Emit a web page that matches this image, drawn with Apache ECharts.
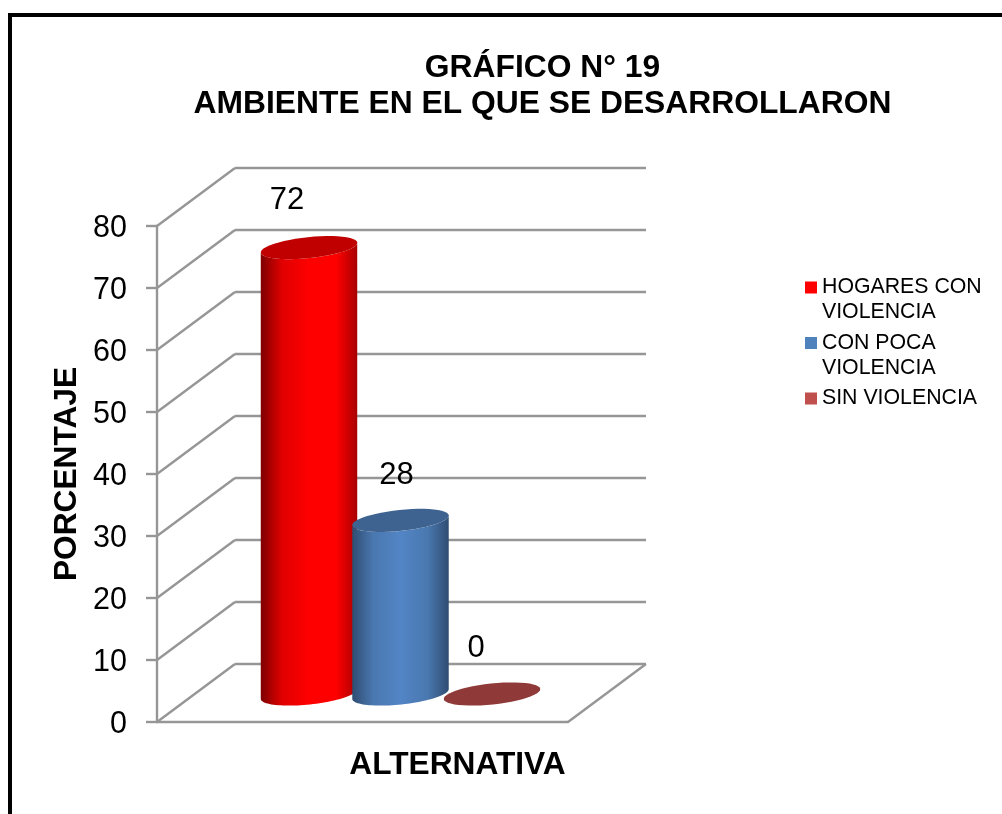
<!DOCTYPE html>
<html>
<head>
<meta charset="utf-8">
<style>html,body{margin:0;padding:0;background:#fff}#c{width:1002px;height:814px}</style>
<script src="https://cdn.jsdelivr.net/npm/echarts@6/dist/echarts.min.js"></script>
</head>
<body>
<div id="c"></div>
<script>
const chartTitle = 'GRÁFICO N° 19\nAMBIENTE EN EL QUE SE DESARROLLARON';
const categories = ['ALTERNATIVA'];
const seriesNames = ['HOGARES CON\nVIOLENCIA', 'CON POCA\nVIOLENCIA', 'SIN VIOLENCIA'];
const seriesValues = [72, 28, 0];
const yTicks = [0, 10, 20, 30, 40, 50, 60, 70, 80];

const FONT = '"Liberation Sans", Arial, sans-serif';
const GRAY = '#969696';
const DEPTH = [78, -58];
const RX = 48.5, RY = 10.5, TILT = 6 * Math.PI / 180;
const SPACING = 91.5 / 411;
const labelShifts = [[-22, -47], [-4, -45], [-16, -46]];
const looks = [
  { legend: '#ff0000', top: '#c00000', stops: ['#7d0000', '#e00000', '#ff0000', '#ff0000', '#a80000'] },
  { legend: '#4f81bd', top: '#3e6390', stops: ['#2f4d72', '#4a78b0', '#5285c5', '#4a78b0', '#2f4d72'] },
  { legend: '#c0504d', top: '#8f3a38', stops: ['#8f3a38', '#8f3a38', '#8f3a38', '#8f3a38', '#8f3a38'] }
];

function ellipsePoints(cx, cy, from, to) {
  const pts = [], n = 48;
  for (let i = 0; i <= n; i++) {
    const t = from + (to - from) * i / n;
    const ex = RX * Math.cos(t), ey = RY * Math.sin(t);
    pts.push([cx + ex * Math.cos(TILT) + ey * Math.sin(TILT),
              cy - ex * Math.sin(TILT) + ey * Math.cos(TILT)]);
  }
  return pts;
}

function cylinderRenderer(idx) {
  return function (params, api) {
    const band = api.size([1, 0])[0];
    const offX = (idx - 1) * SPACING * band + DEPTH[0] / 2 - 1;
    const offY = DEPTH[1] / 2 + 1;
    const base = api.coord([0, 0]);
    const head = api.coord([0, api.value(1)]);
    const bx = base[0] + offX, by = base[1] + offY;
    const hx = head[0] + offX, hy = head[1] + offY;
    const look = looks[idx];
    const children = [];
    if (by - hy > 0.5) {
      const lower = ellipsePoints(bx, by, 0, Math.PI);
      const upper = ellipsePoints(hx, hy, Math.PI, 0);
      children.push({
        type: 'polygon',
        shape: { points: lower.concat(upper) },
        style: {
          fill: {
            type: 'linear', x: 0, y: 0, x2: 1, y2: 0,
            colorStops: look.stops.map((c, i) => ({ offset: [0, 0.22, 0.5, 0.78, 1][i], color: c }))
          }
        }
      });
    }
    children.push({
      type: 'polygon',
      shape: { points: ellipsePoints(hx, hy, 0, Math.PI * 2) },
      style: { fill: look.top }
    });
    children.push({
      type: 'text',
      style: {
        text: String(api.value(1)),
        x: hx + labelShifts[idx][0], y: hy + labelShifts[idx][1],
        fill: '#000', font: '31px ' + FONT, textAlign: 'center', textVerticalAlign: 'middle'
      }
    });
    return { type: 'group', children };
  };
}

function wallRenderer(params, api) {
  const band = api.size([1, 0])[0];
  const p = api.coord([0, api.value(0)]);
  const left = p[0] - band / 2, right = p[0] + band / 2;
  const line = (x1, y1, x2, y2) => ({
    type: 'line', shape: { x1, y1, x2, y2 }, style: { stroke: GRAY, lineWidth: 2.4 }
  });
  const children = [
    line(left, p[1], left + DEPTH[0], p[1] + DEPTH[1]),
    line(left + DEPTH[0], p[1] + DEPTH[1], right + DEPTH[0], p[1] + DEPTH[1])
  ];
  if (api.value(0) === 0) children.push(line(right, p[1], right + DEPTH[0], p[1] + DEPTH[1]));
  return { type: 'group', children };
}

const legendTops = [250, 305.5, 386];
const option = {
  animation: false,
  backgroundColor: '#fff',
  title: {
    text: chartTitle, left: 537.5, top: 45, textAlign: 'center',
    textStyle: { fontFamily: FONT, fontWeight: 'bold', fontSize: 31.8, lineHeight: 36, color: '#000' }
  },
  grid: { left: 157, top: 226, width: 411, height: 496, containLabel: false },
  xAxis: {
    type: 'category', data: categories,
    name: categories[0], nameLocation: 'middle', nameGap: 27,
    nameTextStyle: { fontFamily: FONT, fontWeight: 'bold', fontSize: 31.7, color: '#000', padding: [0, 0, 0, 190] },
    axisLine: { lineStyle: { color: GRAY, width: 2.4 } },
    axisTick: { show: false }, axisLabel: { show: false }, splitLine: { show: false }
  },
  yAxis: {
    type: 'value', min: 0, max: 80, interval: 10,
    name: 'PORCENTAJE', nameLocation: 'middle', nameRotate: 90, nameGap: 74,
    nameTextStyle: { fontFamily: FONT, fontWeight: 'bold', fontSize: 31.7, color: '#000' },
    axisLine: { show: true, lineStyle: { color: GRAY, width: 2.4 } },
    axisTick: { show: true, length: 11, lineStyle: { color: GRAY, width: 2.4 } },
    axisLabel: { margin: 30, fontFamily: FONT, fontSize: 30.5, color: '#000', verticalAlign: 'top', padding: [-13, 0, 0, 0] },
    splitLine: { show: false }
  },
  legend: seriesNames.map((n, i) => ({
    data: [n], left: 805, top: legendTops[i], orient: 'vertical', padding: 0,
    itemWidth: 12, itemHeight: 12, itemGap: 0, selectedMode: false, icon: 'rect',
    formatter: name => (name.includes('\n') ? '\n' + name : name),
    textStyle: { fontFamily: FONT, fontSize: 21.3, lineHeight: 25, color: '#000' }
  })),
  graphic: [{
    type: 'polyline', silent: true,
    shape: { points: [[10, 814], [10, 15], [1002, 15]] },
    style: { stroke: '#000', lineWidth: 4, fill: null }
  }],
  series: [{
    type: 'custom', name: 'walls', coordinateSystem: 'cartesian2d', z: 1,
    encode: { x: 1, y: 0 },
    data: yTicks.map(v => [v, 0]),
    renderItem: wallRenderer
  }].concat(seriesNames.map((n, i) => ({
    type: 'custom', name: n, coordinateSystem: 'cartesian2d', z: 3 + i,
    encode: { x: 0, y: 1 },
    itemStyle: { color: looks[i].legend },
    data: [[0, seriesValues[i]]],
    renderItem: cylinderRenderer(i)
  })))
};
const chart = echarts.init(document.getElementById('c'), null, { renderer: 'canvas' });
chart.setOption(option);
</script>
</body>
</html>
